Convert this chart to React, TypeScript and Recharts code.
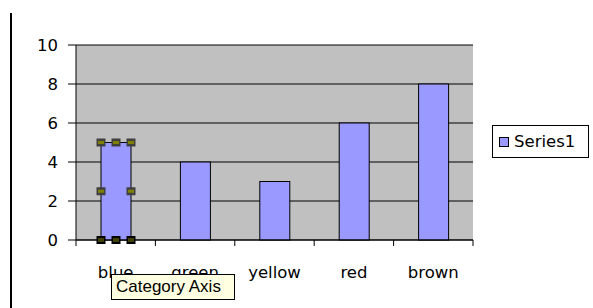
import React from "react";
import { BarChart, Bar, XAxis, YAxis, CartesianGrid, Legend } from "recharts";

const categories = ["blue", "green", "yellow", "red", "brown"];
const seriesValues = [5, 4, 3, 6, 8];
const yTicks = [0, 2, 4, 6, 8, 10];
const seriesName = "Series1";

const data = categories.map((name, i) => ({ name, [seriesName]: seriesValues[i] }));

const FONT = "'DejaVu Sans', Arial, sans-serif";
const TIP_FONT = "'Liberation Sans', Arial, sans-serif";
const BAR_FILL = "#9999FF";

const XTick = (props: any) => {
  const { x, y, payload, index, visibleTicksCount } = props;
  const half = payload && payload.offset ? payload.offset : 39.7;
  const axisY = y - 26;
  const last = index === (visibleTicksCount ?? categories.length) - 1;
  return (
    <g>
      <line x1={x - half} x2={x - half} y1={axisY} y2={axisY + 6} stroke="#000" />
      {last && <line x1={x + half} x2={x + half} y1={axisY} y2={axisY + 6} stroke="#000" />}
      <text x={x} y={y} dy="0.71em" textAnchor="middle" fontSize={16.5} fontFamily={FONT} fill="#000">
        {payload.value}
      </text>
    </g>
  );
};

const Handle = ({ cx, cy, dark }: { cx: number; cy: number; dark: string }) => (
  <g>
    <rect x={cx - 4.5} y={cy - 4} width={9} height={8} fill={dark} />
    <rect x={cx - 3} y={cy - 1.5} width={6} height={3} fill="#808000" />
  </g>
);

const BarShape = (props: any) => {
  const { x, y, width, height, index } = props;
  const rect = <rect x={x} y={y} width={width} height={height} fill={BAR_FILL} stroke="#000" strokeWidth={1} />;
  if (index !== 0) return rect;
  const xs = [x, x + width / 2, x + width];
  return (
    <g>
      {rect}
      {xs.map((hx, i) => (
        <Handle key={"t" + i} cx={hx} cy={y} dark="#404040" />
      ))}
      <Handle cx={x} cy={y + height / 2} dark="#404040" />
      <Handle cx={x + width} cy={y + height / 2} dark="#404040" />
      {xs.map((hx, i) => (
        <Handle key={"b" + i} cx={hx} cy={y + height} dark="#000" />
      ))}
    </g>
  );
};

const LegendBox = (props: any) => {
  const payload = props.payload || [];
  return (
    <div
      style={{
        width: 95,
        height: 31,
        border: "1px solid #000",
        background: "#fff",
        display: "flex",
        alignItems: "center",
        fontFamily: FONT,
        fontSize: 16.5,
        color: "#000",
        boxSizing: "content-box",
      }}
    >
      {payload.map((p: any) => (
        <div key={p.value} style={{ display: "flex", alignItems: "center" }}>
          <span
            style={{
              display: "inline-block",
              width: 8,
              height: 8,
              background: BAR_FILL,
              border: "1px solid #000",
              marginLeft: 6,
              marginRight: 5,
            }}
          />
          <span>{p.value}</span>
        </div>
      ))}
    </div>
  );
};

export default function App() {
  return (
    <div style={{ position: "absolute", left: 0, top: 0, width: 593, height: 308, background: "#fff", overflow: "hidden" }}>
      <div
        style={{
          position: "absolute",
          left: -3,
          top: -24,
          fontFamily: TIP_FONT,
          fontSize: 28,
          lineHeight: "28px",
          whiteSpace: "nowrap",
          color: "#000",
        }}
      >
        e column
      </div>
      <div style={{ position: "absolute", left: 10, top: 13, width: 2, height: 295, background: "#000" }} />
      <div style={{ position: "absolute", left: 0, top: 0 }}>
        <BarChart
          width={593}
          height={308}
          data={data}
          margin={{ top: 45, right: 120, left: 0, bottom: 0 }}
          barSize={30}
        >
          <CartesianGrid vertical={false} stroke="#000" fill="#C0C0C0" fillOpacity={1} />
          <XAxis
            dataKey="name"
            height={68}
            tickLine={false}
            axisLine={{ stroke: "#000" }}
            tickSize={6}
            tickMargin={20}
            interval={0}
            tick={<XTick />}
          />
          <XAxis
            xAxisId="top"
            dataKey="name"
            orientation="top"
            height={0}
            tick={false}
            tickLine={false}
            axisLine={{ stroke: "#808080", strokeWidth: 2 }}
          />
          <YAxis
            domain={[0, 10]}
            ticks={yTicks}
            width={76}
            tickSize={8}
            tickMargin={10}
            axisLine={{ stroke: "#000" }}
            tickLine={{ stroke: "#000" }}
            tick={{ fill: "#000", fontSize: 16.5, fontFamily: FONT }}
            interval={0}
          />
          <YAxis
            yAxisId="right"
            orientation="right"
            width={0}
            domain={[0, 10]}
            tick={false}
            tickLine={false}
            axisLine={{ stroke: "#808080", strokeWidth: 2 }}
          />
          <Legend
            layout="vertical"
            align="center"
            verticalAlign="middle"
            wrapperStyle={{ left: 492, top: 125, width: 97 }}
            content={<LegendBox />}
          />
          <Bar dataKey={seriesName} fill={BAR_FILL} stroke="#000" isAnimationActive={false} shape={<BarShape />} />
        </BarChart>
      </div>
      <div
        style={{
          position: "absolute",
          left: 111,
          top: 274,
          width: 118,
          height: 24,
          border: "1px solid #000",
          background: "#FFFFE1",
          fontFamily: TIP_FONT,
          fontSize: 17,
          lineHeight: "24px",
          paddingLeft: 4,
          boxSizing: "content-box",
          color: "#000",
          whiteSpace: "nowrap",
        }}
      >
        Category Axis
      </div>
    </div>
  );
}
